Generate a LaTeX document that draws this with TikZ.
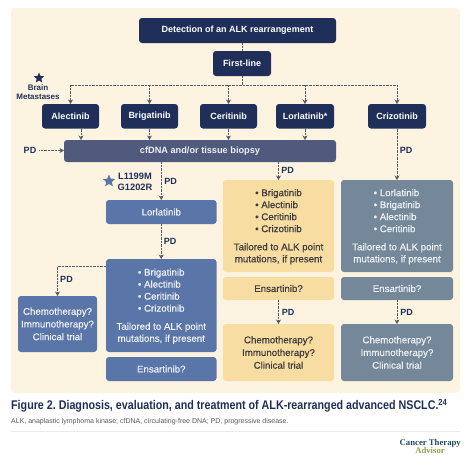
\documentclass[tikz,border=0pt]{standalone}
\usepackage{fontspec}
\setmainfont{Liberation Sans}
\newfontfamily\mediumfont[FakeBold=0.5]{Liberation Sans}
\newfontfamily\titlefont[FakeStretch=0.85]{Liberation Sans Bold}
\usepackage{xcolor}
\usetikzlibrary{shapes.geometric, arrows.meta, positioning, calc}
\definecolor{cream}{HTML}{FDF3E1}
\definecolor{navy}{HTML}{1F2F5A}
\definecolor{slate}{HTML}{4F5A7D}
\definecolor{steel}{HTML}{5A75A8}
\definecolor{sand}{HTML}{F8DDA3}
\definecolor{ash}{HTML}{74889A}
\definecolor{sandtext}{HTML}{3E3B3A}
\definecolor{paletext}{HTML}{EDF0F5}
\definecolor{linegray}{HTML}{565A66}
\definecolor{brandteal}{HTML}{1F4A63}
\definecolor{brandgreen}{HTML}{8FA04F}
\newcommand{\druglist}[4]{\begin{tabular}{@{}l@{}}\textbullet\ #1\\\textbullet\ #2\\\textbullet\ #3\\\textbullet\ #4\end{tabular}}
\newcommand{\tailored}{\\[6.5pt]Tailored to ALK point\\mutations, if present}
\newcommand{\chemotext}{Chemotherapy?\\Immunotherapy?\\Clinical trial}

\begin{document}
\begin{tikzpicture}[
    x=1pt, y=-1pt,
    node distance=5pt,
    box/.style={rounded corners=3pt, inner sep=0pt, outer sep=0pt, align=center},
    navybox/.style={box, fill=navy, text=white, minimum height=24.5pt, minimum width=57pt, font=\fontsize{9}{11}\selectfont\bfseries},
    softbox/.style={box, font=\fontsize{9.7}{12}\selectfont\mediumfont},
    steelbox/.style={softbox, fill=steel, text=paletext, minimum width=110.5pt},
    sandbox/.style={softbox, fill=sand, text=sandtext, minimum width=111pt},
    ashbox/.style={softbox, fill=ash, text=paletext, minimum width=112pt},
    arr/.style={-{Stealth[length=4.5pt, width=5pt]}, dash pattern=on 0.8pt off 0.6pt, line width=0.7pt, draw=linegray},
    dotline/.style={dash pattern=on 0.8pt off 0.6pt, line width=0.7pt, draw=linegray},
    pd/.style={font=\fontsize{9}{11}\selectfont\bfseries, text=navy, inner sep=0pt},
    starlabel/.style={text=navy, inner sep=0pt, align=center},
    starmark/.style={star, star points=5, star point ratio=2.2, inner sep=0pt, minimum size=13pt},
]
\useasboundingbox (0,0) rectangle (474,461);
\fill[cream, rounded corners=4pt] (11,8) rectangle (460,393);

% top of the chart
\node[navybox, minimum width=197pt, minimum height=25pt, anchor=north west] (detect) at (139,18) {Detection of an ALK rearrangement};
\node[navybox, minimum width=58pt, minimum height=25pt, anchor=north west] (first) at (213,51) {First-line};
\coordinate (trunk) at (242,85);

% first-line drugs
\node[navybox, anchor=north west] (alectinib) at (42,104) {Alectinib};
\node[navybox, right=22pt of alectinib] (brigatinib) {Brigatinib};
\node[navybox, right=22pt of brigatinib] (ceritinib) {Ceritinib};
\node[navybox, minimum width=58pt, right=19pt of ceritinib] (lorlatinib) {Lorlatinib*};
\node[navybox, minimum width=58pt, right=34pt of lorlatinib] (crizotinib) {Crizotinib};
\node[box, fill=slate, text=paletext, font=\fontsize{9.2}{11}\selectfont\bfseries, minimum width=272pt, minimum height=22pt, anchor=north west] (biopsy) at (64,140) {cfDNA and/or tissue biopsy};

% left branch
\node[steelbox, minimum height=24pt, anchor=north west] (lorlatinibB) at (106,200) {Lorlatinib};
\node[steelbox, minimum height=93pt, below=35pt of lorlatinibB] (listB) {\druglist{Brigatinib}{Alectinib}{Ceritinib}{Crizotinib}\tailored};
\node[steelbox, minimum height=24pt, below=of listB] (ensartB) {Ensartinib?};
\node[softbox, fill=steel, text=paletext, font=\fontsize{9.7}{12.7}\selectfont\mediumfont, minimum width=79pt, minimum height=56pt, anchor=north west] (chemoB) at (18,296) {\chemotext};

% middle branch
\node[sandbox, minimum height=92pt, anchor=north west] (listY) at (223,180) {\druglist{Brigatinib}{Alectinib}{Ceritinib}{Crizotinib}\tailored};
\node[sandbox, minimum height=23pt, below=of listY] (ensartY) {Ensartinib?};
\node[sandbox, font=\fontsize{9.7}{12.7}\selectfont\mediumfont, minimum height=57pt, below=24pt of ensartY] (chemoY) {\chemotext};

% right branch
\node[ashbox, minimum height=92pt, anchor=north west] (listG) at (341,180) {\druglist{Lorlatinib}{Brigatinib}{Alectinib}{Ceritinib}\tailored};
\node[ashbox, minimum height=23pt, below=of listG] (ensartG) {Ensartinib?};
\node[ashbox, font=\fontsize{9.7}{12.7}\selectfont\mediumfont, minimum height=57pt, below=24pt of ensartG] (chemoG) {\chemotext};

% stars and their labels
\node[starmark, fill=navy, minimum size=11pt] (brainstar) at (39,78) {};
\node[starlabel, font=\fontsize{8}{8.6}\selectfont\bfseries] (brain) at (38,92) {Brain\\Metastases};
\node[starmark, fill=steel] (pointstar) at (109,181) {};
\node[starlabel, font=\fontsize{9.3}{11.2}\selectfont\bfseries] (point) at (135,181.5) {L1199M\\G1202R};

% connectors
\draw[dotline] (detect.south -| first.south) -- (first.north);
\draw[dotline] (first.south) -- (trunk);
\draw[dotline] (alectinib.north |- trunk) -- (crizotinib.north |- trunk);
\foreach \drug in {alectinib, brigatinib, ceritinib, lorlatinib, crizotinib}
    \draw[arr] (\drug.north |- trunk) -- (\drug.north);
\draw[arr] ([xshift=10.5pt]alectinib.south) -- ([xshift=10.5pt]alectinib.south |- biopsy.north);
\draw[arr] (brigatinib.south) -- (brigatinib.south |- biopsy.north);
\draw[arr] (ceritinib.south) -- (ceritinib.south |- biopsy.north);
\draw[arr] (lorlatinib.south) -- (lorlatinib.south |- biopsy.north);
\draw[arr] (crizotinib.south) -- (crizotinib.south |- listG.north);
\draw[arr] (lorlatinibB.north |- biopsy.south) -- (lorlatinibB.north);
\draw[arr] (listY.north |- biopsy.south) -- (listY.north);
\draw[arr] (lorlatinibB) -- (listB);
\draw[arr] (ensartY) -- (chemoY);
\draw[arr] (ensartG) -- (chemoG);
\draw[arr] (listB.north west |- 0,266) -| (chemoB.north);

% PD labels
\node[pd] (pdin) at (30,150.5) {PD};
\draw[arr] ([xshift=3pt]pdin.east) -- (biopsy.west |- pdin.east);
\node[pd] (pdA) at (170.5,181) {PD};
\node[pd] (pdB) at (170,241.5) {PD};
\node[pd] (pdC) at (66.5,279) {PD};
\node[pd] (pdD) at (287.5,170) {PD};
\node[pd] (pdE) at (406,150.5) {PD};
\node[pd] (pdF) at (288,312) {PD};
\node[pd] (pdG) at (406.5,312) {PD};

% caption
\node[anchor=west, inner sep=0pt, text=navy, font=\fontsize{12.6}{15}\selectfont\titlefont\frenchspacing] (title) at (11,406) {Figure 2. Diagnosis, evaluation, and treatment of ALK-rearranged advanced NSCLC.\textsuperscript{\mdseries 24}};
\node[anchor=west, inner sep=0pt, text=black!65, font=\fontsize{7}{8}\selectfont\frenchspacing] (note) at (11,421.5) {ALK, anaplastic lymphoma kinase; cfDNA, circulating-free DNA; PD, progressive disease.};
\draw[black!8, line width=0.5pt] (11,431.5) -- (460,431.5);
\node[anchor=east, inner sep=0pt, text=brandteal, font=\fontsize{8.7}{9}\selectfont\bfseries\fontspec{Liberation Serif}] (brandA) at (461,443) {Cancer Therapy};
\node[inner sep=0pt, text=brandgreen, font=\fontsize{8.7}{9}\selectfont\bfseries\fontspec{Liberation Serif}] (brandB) at (430,450.5) {Advisor};
\end{tikzpicture}
\end{document}
